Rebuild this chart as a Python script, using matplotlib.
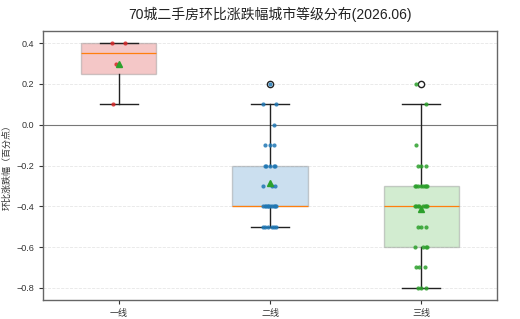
import matplotlib
matplotlib.use("Agg")
import matplotlib.pyplot as plt
import numpy as np

plt.rcParams['font.family'] = ['Liberation Sans', 'Noto Sans CJK SC', 'DejaVu Sans']
plt.rcParams['axes.unicode_minus'] = True

categories = ["一线", "二线", "三线"]
tier1 = [0.4, 0.4, 0.3, 0.1]
tier2 = [0.2, 0.1, 0.1, 0.0, -0.1, -0.1, -0.1,
         -0.2, -0.2, -0.2, -0.2, -0.2,
         -0.3, -0.3, -0.3,
         -0.4, -0.4, -0.4, -0.4, -0.4, -0.4, -0.4, -0.4, -0.4, -0.4,
         -0.5, -0.5, -0.5, -0.5, -0.5, -0.5]
tier3 = [0.2, 0.1, -0.1, -0.2, -0.2, -0.2,
         -0.3, -0.3, -0.3, -0.3, -0.3, -0.3, -0.3, -0.3,
         -0.4, -0.4, -0.4, -0.4, -0.4, -0.4, -0.4, -0.4,
         -0.5, -0.5, -0.5,
         -0.6, -0.6, -0.6, -0.6,
         -0.7, -0.7, -0.7,
         -0.8, -0.8, -0.8]
data = [tier1, tier2, tier3]
box_colors = ["#e57373", "#7fb0d8", "#8fd08a"]
point_colors = ["#d62728", "#1f77b4", "#2ca02c"]

fig = plt.figure(figsize=(5.2, 3.19), dpi=100)
ax = fig.add_axes([43/520, 1 - 300/319, 454/520, 269/319])

bp = ax.boxplot(data, positions=[1, 2, 3], widths=0.5, patch_artist=True,
                showmeans=True,
                meanprops=dict(marker='^', markerfacecolor='#2ca02c',
                               markeredgecolor='#2ca02c', markersize=5),
                medianprops=dict(color='#ff7f0e', linewidth=0.9),
                whiskerprops=dict(color='#222222', linewidth=1),
                capprops=dict(color='#222222', linewidth=1),
                flierprops=dict(marker='o', markerfacecolor='white',
                                markeredgecolor='#222222', markersize=4.5),
                zorder=2)
for patch, c in zip(bp['boxes'], box_colors):
    patch.set_facecolor(c)
    patch.set_alpha(0.4)
    patch.set_edgecolor('#888888')
    patch.set_linewidth(1)
for m in bp['means']:
    m.set_zorder(5)

offsets_cycle = [0.0, -0.035, 0.025, -0.015, 0.04, -0.045, 0.012, 0.032, -0.025]
for i, (vals, col) in enumerate(zip(data, point_colors)):
    xs = []
    counts = {}
    for v in vals:
        k = counts.get(v, 0)
        counts[v] = k + 1
        xs.append(i + 1 + offsets_cycle[(k + i * 2 + int(round(v * 10)) * (i + 1)) % len(offsets_cycle)] if not (i == 1 and v == 0.2) else i + 1)
    ax.scatter(xs, vals, s=9, color=col, alpha=0.85, zorder=4, linewidths=0)

ax.axhline(0, color='#777777', linewidth=0.8, zorder=1)
ax.yaxis.grid(True, linestyle='--', color='#e6e6e6', linewidth=0.6)
ax.set_axisbelow(True)
ax.set_xlim(0.5, 3.5)
ax.set_ylim(-0.86, 0.46)
ax.set_yticks([0.4, 0.2, 0.0, -0.2, -0.4, -0.6, -0.8])
ax.set_xticks([1, 2, 3])
ax.set_xticklabels(categories)
ax.tick_params(labelsize=6.5, length=3, width=0.8, colors='#333333')
for s in ax.spines.values():
    s.set_color('#666666')
    s.set_linewidth(1)
ax.set_ylabel("环比涨跌幅（百分点）", fontsize=6.5, color='#333333', labelpad=3)
fig.suptitle("70城二手房环比涨跌幅城市等级分布(2026.06)", fontsize=10, y=0.98, x=0.52, color='#222222')

fig.savefig("out.png", dpi=100)
